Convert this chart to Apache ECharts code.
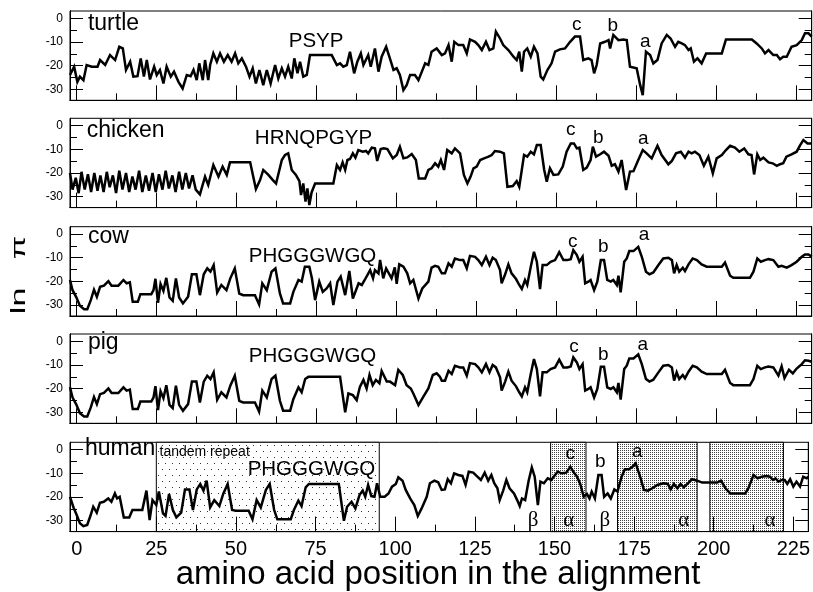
<!DOCTYPE html>
<html><head><meta charset="utf-8">
<script src="https://cdn.jsdelivr.net/npm/echarts@6/dist/echarts.min.js"></script>
<style>html,body{margin:0;padding:0;background:#fff}#c{width:813px;height:592px}</style>
</head><body><div id="c"></div><script>
// ---------------- data ----------------
const species = ['turtle', 'chicken', 'cow', 'pig', 'human'];
const xTickLabels = [0, 25, 50, 75, 100, 125, 150, 175, 200, 225];
const xMinorTicks = [12.5, 37.5, 62.5, 87.5, 112.5, 137.5, 162.5, 187.5, 212.5];
const yTickLabels = [0, -10, -20, -30];
const yMinorTicks = [-5, -15, -25];

const turtle = [[-2.1,-23.9],[-1.6,-22.5],[-0.8,-20.4],[0.2,-26.8],[1.0,-24.6],[2.1,-26.1],[3.1,-19.7],[4.7,-20.4],[6.5,-20.4],[7.3,-17.6],[8.9,-19.7],[10.4,-15.5],[12.0,-17.6],[13.3,-12.0],[14.4,-12.7],[15.4,-21.8],[16.7,-18.3],[17.7,-24.6],[19.0,-24.4],[20.0,-16.9],[21.0,-24.6],[21.9,-17.6],[22.9,-25.8],[24.2,-20.4],[25.0,-23.9],[26.0,-21.8],[27.1,-27.5],[28.1,-20.4],[29.4,-24.6],[30.4,-22.5],[31.8,-26.8],[33.1,-29.6],[34.4,-23.9],[35.6,-24.4],[36.5,-21.8],[37.5,-26.1],[38.3,-19.0],[39.4,-26.1],[40.1,-17.6],[41.1,-26.1],[41.7,-19.7],[42.7,-14.8],[43.8,-18.3],[44.8,-14.8],[46.0,-18.3],[47.2,-15.5],[48.4,-18.3],[49.5,-14.8],[50.5,-19.0],[51.6,-16.9],[52.9,-20.4],[54.0,-24.6],[55.0,-21.1],[56.0,-27.5],[57.1,-21.8],[58.3,-28.2],[59.4,-21.8],[60.6,-27.5],[62.0,-19.7],[63.0,-25.4],[64.1,-21.1],[65.1,-24.6],[66.1,-20.4],[67.2,-25.4],[68.0,-16.9],[69.0,-23.2],[69.8,-18.3],[70.8,-24.6],[71.9,-23.9],[72.9,-15.5],[79.7,-15.5],[81.3,-19.7],[82.3,-19.0],[83.3,-20.4],[84.4,-19.7],[85.4,-14.1],[86.7,-23.2],[87.7,-18.3],[88.8,-14.8],[89.6,-19.7],[91.1,-15.5],[91.9,-20.4],[93.2,-12.7],[94.3,-22.5],[95.3,-16.2],[96.7,-12.0],[97.7,-16.2],[99.0,-21.8],[100.0,-21.1],[101.0,-23.9],[102.1,-30.3],[103.1,-28.2],[104.2,-23.9],[105.7,-23.9],[106.8,-26.1],[108.9,-19.0],[109.9,-19.7],[110.9,-14.1],[112.5,-12.7],[114.1,-15.5],[115.1,-14.8],[116.2,-11.3],[117.2,-18.3],[118.0,-9.9],[119.3,-11.3],[120.8,-11.3],[121.9,-14.8],[122.9,-8.9],[124.5,-9.9],[125.5,-11.3],[126.6,-13.4],[127.9,-9.9],[129.0,-13.4],[130.2,-12.7],[131.0,-5.6],[132.3,-8.5],[133.3,-11.3],[134.9,-13.4],[136.5,-16.2],[137.5,-17.6],[138.3,-14.1],[139.1,-22.5],[139.8,-14.1],[140.8,-12.7],[141.9,-16.2],[142.9,-12.0],[144.0,-14.8],[145.0,-24.6],[145.8,-25.8],[147.1,-21.8],[148.4,-19.0],[149.5,-14.1],[151.0,-13.1],[152.6,-12.7],[154.2,-9.9],[155.7,-7.7],[157.3,-7.7],[158.3,-17.6],[159.9,-16.9],[160.9,-17.6],[161.7,-23.2],[162.5,-19.7],[163.6,-10.6],[165.1,-9.9],[166.2,-9.2],[166.7,-12.7],[167.7,-7.0],[169.3,-9.2],[170.8,-8.9],[171.9,-9.2],[172.9,-20.4],[175.0,-21.1],[176.1,-28.2],[176.9,-32.4],[177.9,-14.1],[179.2,-15.5],[180.2,-19.0],[181.5,-17.6],[182.8,-10.6],[184.4,-7.0],[185.6,-8.5],[187.0,-12.0],[188.0,-9.9],[189.1,-10.6],[190.1,-11.3],[191.2,-13.4],[191.9,-12.7],[192.9,-18.3],[194.0,-16.9],[195.3,-19.0],[196.7,-14.8],[201.6,-14.8],[202.9,-8.9],[211.0,-8.9],[212.5,-10.6],[214.1,-12.7],[215.1,-14.8],[216.2,-13.4],[217.7,-15.5],[218.8,-15.5],[219.8,-17.3],[220.8,-16.2],[221.9,-16.2],[223.4,-12.0],[225.0,-11.3],[226.6,-9.2],[227.6,-6.3],[228.7,-6.3],[229.7,-7.7]];

const chicken = [[-2.1,-20],[-1.3,-27],[-0.3,-22],[0.6,-28.5],[1.5,-19.5],[2.5,-27],[3.5,-20.5],[4.5,-28],[5.5,-20],[6.5,-27.5],[7.4,-21],[8.4,-28],[9.4,-19.5],[10.3,-26],[11.3,-21],[12.3,-28.5],[13.3,-19],[14.3,-27],[15.4,-20],[16.4,-28],[17.4,-21.5],[18.4,-27],[19.5,-19],[20.5,-28],[21.6,-21],[22.6,-27.5],[23.7,-20],[24.7,-28],[25.7,-20.5],[26.8,-27],[27.8,-19],[28.8,-26.5],[29.9,-21],[30.9,-28],[32.0,-19.5],[33.0,-27],[34.1,-20],[35.1,-26.5],[36.2,-21],[37.2,-27],[38.5,-29],[40.1,-21.5],[41.1,-25],[42.7,-16.6],[44.3,-21.5],[45.6,-17.3],[46.9,-20.8],[47.9,-15.5],[54.2,-15.5],[56.0,-26.8],[57.3,-23],[58.3,-18.7],[59.9,-20.8],[61.3,-23],[62.3,-24.4],[64.1,-14.5],[65.1,-12.4],[66.1,-11.7],[67.2,-18.7],[68.5,-20.8],[69.6,-23.4],[70.1,-29.3],[70.8,-24.4],[71.5,-32.1],[72.1,-26.5],[72.7,-33.5],[73.4,-28.2],[74.5,-24.4],[80.2,-24.4],[81.3,-16.6],[82.3,-18.7],[83.1,-15.5],[83.9,-18.7],[84.6,-14.5],[85.4,-14.1],[86.3,-11.7],[87.1,-13.5],[88.0,-10.3],[89.4,-11],[90.4,-10.7],[91.1,-11.7],[92.2,-9.3],[93.2,-9.6],[93.9,-14.9],[95.0,-9.9],[96.0,-9.6],[97.1,-9.9],[98.8,-13.8],[100.0,-12.4],[101.0,-8.9],[102.1,-13.8],[103.3,-13.4],[104.7,-12],[106.0,-14.5],[106.9,-22.3],[108.9,-22.3],[109.9,-18.7],[110.9,-18],[112.0,-15.9],[113.0,-17.3],[113.8,-14.5],[114.8,-18.7],[115.8,-10.3],[117.2,-11.7],[118.2,-9.6],[119.8,-11.7],[121.0,-20.8],[122.1,-24.4],[123.1,-21.5],[124.0,-18],[125.0,-17.3],[126.1,-14.5],[127.3,-13.8],[128.7,-13.1],[129.7,-12.4],[130.7,-10.7],[132.3,-11],[133.5,-11.7],[134.6,-25.8],[136.3,-25.5],[137.5,-23.4],[138.3,-25.8],[139.8,-12.4],[140.8,-13.1],[141.9,-11],[142.9,-12.1],[143.8,-8.2],[145.0,-8.2],[146.1,-18.7],[146.9,-23.7],[147.9,-18],[149.0,-20.8],[150.5,-20.6],[151.9,-17.3],[153.1,-11],[154.4,-7.5],[155.4,-7.5],[156.3,-9.6],[157.1,-9.3],[158.3,-18.7],[159.4,-17.7],[160.6,-14.5],[161.3,-8.9],[162.3,-13.1],[163.6,-12.1],[164.8,-11],[166.2,-12.7],[167.2,-16.9],[168.2,-16.3],[169.3,-19.4],[170.3,-14.5],[171.7,-27.2],[172.9,-19.4],[174.0,-19.2],[175.5,-14.5],[176.9,-10.3],[178.1,-11.7],[179.7,-13.8],[181.5,-8.5],[182.8,-12.4],[184.9,-16.3],[186.0,-14.9],[187.3,-11.7],[188.8,-11],[190.1,-13.5],[191.2,-11],[192.2,-11.7],[193.2,-11],[194.6,-12.4],[196.0,-16.9],[197.4,-13.1],[198.8,-20.1],[200.0,-13.8],[201.6,-12.4],[202.9,-10.3],[204.2,-8.5],[205.7,-9.3],[207.1,-11],[208.6,-9.6],[209.9,-12.1],[210.9,-12.4],[211.7,-20.6],[212.7,-12.1],[213.6,-14.5],[214.6,-13.5],[216.2,-15.5],[217.5,-15.9],[218.8,-17],[219.8,-16.3],[220.8,-15.9],[221.8,-13.1],[223.4,-12.1],[225.0,-11],[226.1,-8.2],[227.1,-6.1],[228.4,-7.5],[229.7,-7.5]];

const cow = [[-2.1,-19.4],[-1.3,-23.7],[-0.2,-26.5],[1.0,-30.3],[2.3,-31.7],[3.3,-31.7],[4.4,-27.9],[5.4,-23.5],[6.3,-26.5],[7.3,-22.3],[8.5,-21.8],[9.9,-19.9],[10.9,-21.8],[13.0,-21.8],[14.6,-19.4],[15.6,-20.8],[16.6,-20.4],[17.5,-28.6],[19.1,-28.6],[19.9,-25.4],[23.3,-25.4],[24.0,-23.7],[24.6,-18.9],[25.4,-29.0],[26.2,-21.1],[27.1,-24.0],[28.0,-18.5],[29.0,-26.8],[30.0,-28.2],[31.0,-18.7],[32.0,-26.8],[33.2,-29.3],[34.8,-26.5],[36.0,-17.0],[37.4,-17.0],[38.5,-25.8],[39.7,-17.0],[40.8,-14.5],[41.8,-15.9],[42.8,-13.1],[43.9,-24.7],[45.2,-21.5],[46.8,-23.7],[48.0,-18.7],[49.4,-14.5],[50.8,-25.1],[52.0,-25.8],[55.7,-25.8],[57.0,-29.7],[58.0,-20.8],[59.4,-23.7],[60.9,-15.9],[62.1,-14.5],[63.5,-25.1],[64.5,-29.3],[66.7,-29.3],[67.7,-24.4],[69.3,-19.4],[70.3,-20.1],[71.3,-13.8],[72.7,-13.8],[73.5,-18.7],[74.5,-27.9],[75.8,-20.1],[76.9,-24.4],[78.1,-23.0],[79.2,-20.8],[80.2,-30.0],[81.5,-20.1],[82.5,-18.0],[83.9,-25.8],[85.2,-15.6],[86.3,-27.2],[88.1,-20.8],[89.1,-21.5],[90.0,-19.4],[91.7,-15.2],[92.6,-18.7],[93.2,-15.2],[94.3,-16.6],[94.8,-10.9],[95.8,-18.7],[96.7,-14.5],[98.4,-18.7],[99.4,-14.1],[100.0,-21.0],[100.8,-12.8],[102.1,-13.8],[103.3,-16.6],[104.2,-20.8],[105.2,-19.4],[106.8,-27.2],[108.0,-23.0],[109.9,-20.1],[110.9,-14.2],[112.0,-13.4],[113.0,-13.8],[114.1,-16.6],[115.1,-16.6],[116.2,-12.4],[117.2,-13.8],[118.2,-10.3],[119.8,-11.0],[120.8,-11.0],[121.9,-14.5],[122.9,-9.2],[124.5,-9.6],[125.5,-11.0],[126.6,-13.1],[127.9,-9.6],[129.0,-13.1],[130.0,-10.0],[131.0,-11.0],[132.3,-15.2],[132.8,-20.8],[133.9,-17.0],[134.9,-12.8],[135.9,-16.6],[137.3,-19.0],[138.3,-21.5],[139.1,-23.2],[140.1,-19.4],[140.8,-21.5],[141.9,-13.8],[142.9,-7.5],[143.8,-11.7],[144.8,-23.2],[145.6,-13.1],[146.9,-13.1],[148.1,-11.7],[149.5,-11.0],[150.8,-7.7],[152.1,-11.0],[153.3,-11.0],[154.4,-10.6],[155.2,-6.8],[156.3,-8.9],[157.1,-11.7],[158.1,-9.6],[158.9,-20.8],[159.9,-20.1],[160.6,-19.4],[161.7,-23.7],[162.7,-20.1],[163.8,-11.0],[164.8,-11.0],[165.8,-19.4],[166.9,-20.1],[167.7,-19.4],[168.8,-21.5],[169.3,-17.6],[170.0,-24.6],[171.1,-11.7],[171.9,-10.3],[172.7,-7.2],[174.0,-7.2],[175.5,-5.4],[176.6,-9.6],[177.9,-15.9],[179.0,-17.0],[180.2,-16.2],[181.8,-13.1],[183.3,-10.3],[184.9,-10.0],[186.0,-11.0],[186.7,-16.6],[187.5,-13.1],[188.3,-15.9],[189.4,-14.2],[190.1,-15.6],[191.2,-12.8],[192.5,-10.3],[193.8,-11.0],[195.3,-12.8],[196.9,-13.8],[201.6,-13.8],[202.6,-12.0],[204.2,-17.6],[205.2,-18.5],[210.4,-18.5],[211.5,-15.9],[212.7,-10.3],[213.8,-11.7],[215.1,-11.0],[216.2,-10.6],[217.7,-11.0],[219.3,-13.8],[220.3,-13.4],[221.9,-14.2],[223.4,-13.1],[225.0,-11.7],[226.6,-9.6],[227.6,-8.6],[228.7,-8.6],[229.7,-9.6]];

const pig = [[-2.1,-19.4],[-1.3,-23.7],[-0.2,-26.5],[1.0,-30.3],[2.3,-31.7],[3.3,-31.7],[4.4,-27.9],[5.4,-23.5],[6.3,-26.5],[7.3,-22.3],[8.5,-21.8],[9.9,-19.9],[10.9,-21.8],[13.0,-21.8],[14.6,-19.4],[15.6,-20.8],[16.6,-20.4],[17.5,-28.6],[19.1,-28.6],[19.9,-25.4],[23.3,-25.4],[24.0,-23.7],[24.6,-18.9],[25.4,-29.0],[26.2,-21.1],[27.1,-24.0],[28.0,-18.5],[29.0,-26.8],[30.0,-28.2],[31.0,-18.7],[32.0,-26.8],[33.2,-29.3],[34.8,-26.5],[36.0,-17.0],[37.4,-17.0],[38.5,-25.8],[39.7,-17.0],[40.8,-14.5],[41.8,-15.9],[42.8,-13.1],[43.9,-24.7],[45.2,-21.5],[46.8,-23.7],[48.0,-18.7],[49.4,-14.5],[50.8,-25.1],[52.0,-25.8],[55.7,-25.8],[57.0,-29.7],[58.0,-20.8],[59.4,-23.7],[60.9,-15.9],[62.1,-14.5],[63.5,-25.1],[64.5,-29.3],[66.7,-29.3],[67.7,-24.4],[69.3,-19.4],[70.3,-21.5],[71.4,-15.9],[72.4,-15.0],[82.3,-15.0],[83.9,-30.0],[84.9,-22.0],[86.3,-22.7],[87.5,-24.8],[88.5,-19.2],[89.6,-16.3],[90.6,-19.9],[91.5,-14.2],[92.5,-18.5],[93.5,-16.3],[94.6,-17.7],[95.3,-12.5],[96.9,-17.0],[97.9,-17.0],[99.5,-18.5],[100.5,-12.1],[101.9,-14.2],[103.1,-18.5],[104.4,-19.9],[105.2,-22.0],[106.8,-26.9],[108.3,-23.4],[109.9,-19.9],[111.3,-14.2],[112.5,-13.5],[113.5,-14.9],[114.1,-16.6],[115.1,-16.6],[116.2,-12.4],[117.2,-13.8],[118.2,-10.3],[119.8,-11.0],[120.8,-11.0],[121.9,-14.5],[122.9,-9.2],[124.5,-9.6],[125.5,-11.0],[126.6,-13.1],[127.9,-9.6],[129.0,-13.1],[130.0,-10.0],[131.0,-11.0],[132.3,-15.2],[132.8,-20.8],[133.9,-17.0],[134.9,-12.8],[135.9,-16.6],[137.3,-19.0],[138.3,-21.5],[139.1,-23.2],[140.1,-19.4],[140.8,-21.5],[141.9,-13.8],[142.9,-7.5],[143.8,-11.7],[144.8,-23.2],[145.6,-13.1],[146.9,-13.1],[148.1,-11.7],[149.5,-11.0],[150.8,-7.7],[152.1,-11.0],[153.3,-11.0],[154.4,-10.6],[155.2,-6.8],[156.3,-8.9],[157.1,-11.7],[158.1,-9.6],[158.9,-20.8],[159.9,-20.1],[160.6,-19.4],[161.7,-23.7],[162.7,-20.1],[163.8,-10.7],[164.8,-10.7],[165.8,-19.4],[166.9,-20.1],[167.7,-19.4],[168.8,-21.5],[169.3,-17.6],[170.0,-24.6],[171.1,-11.7],[171.9,-10.3],[172.7,-7.2],[174.0,-7.2],[175.5,-5.5],[176.6,-9.6],[177.9,-15.9],[179.0,-17.0],[180.2,-16.2],[181.8,-13.1],[183.3,-10.3],[184.9,-10.0],[186.0,-11.0],[186.7,-16.6],[187.5,-13.1],[188.3,-15.9],[189.4,-14.2],[190.1,-15.6],[191.2,-12.8],[192.5,-10.3],[193.8,-11.0],[195.3,-12.8],[196.9,-13.8],[201.6,-13.8],[202.6,-12.0],[204.2,-17.6],[205.2,-18.5],[210.4,-18.5],[211.5,-15.9],[212.7,-10.3],[213.8,-11.7],[215.1,-11.0],[216.2,-10.6],[217.7,-11.0],[219.3,-14.5],[220.3,-10.5],[221.2,-15.5],[222.6,-12.0],[223.8,-13.5],[225.0,-11.5],[226.6,-9.6],[227.6,-8.0],[228.7,-8.2],[229.7,-8.6]];

const human = [[-2.1,-19.9],[-1.0,-24.4],[0.0,-27.6],[1.0,-31.1],[2.1,-32.3],[3.3,-31.8],[4.4,-27.6],[5.2,-24.1],[6.3,-26.6],[7.3,-22.4],[8.5,-22.0],[9.9,-20.6],[10.9,-22.0],[12.0,-18.5],[12.7,-20.6],[13.5,-19.9],[14.8,-28.6],[16.5,-28.6],[17.5,-25.5],[20.6,-25.5],[21.9,-17.3],[22.9,-29.7],[23.8,-21.3],[25.0,-23.4],[25.8,-17.7],[27.1,-26.9],[27.9,-28.0],[29.0,-18.7],[30.2,-25.5],[31.3,-28.6],[32.8,-26.6],[34.0,-16.8],[35.4,-16.8],[36.5,-25.5],[37.7,-16.8],[38.8,-14.5],[39.8,-17.3],[40.8,-13.1],[41.9,-24.4],[43.2,-21.3],[44.8,-23.8],[46.0,-18.7],[47.4,-14.5],[48.8,-25.5],[50.0,-25.8],[54.0,-25.8],[55.2,-29.4],[56.5,-21.3],[57.8,-24.4],[59.4,-17.0],[60.6,-14.5],[62.0,-25.5],[63.0,-29.4],[67.2,-29.4],[68.2,-25.5],[69.6,-21.5],[70.6,-23.8],[71.9,-15.9],[72.9,-14.5],[82.3,-14.5],[83.9,-30.0],[84.9,-24.1],[86.3,-22.0],[87.5,-24.8],[88.8,-19.2],[89.8,-17.3],[90.6,-19.9],[91.5,-14.9],[92.5,-19.6],[93.5,-19.9],[94.3,-14.2],[95.3,-19.9],[96.7,-19.9],[97.9,-18.5],[99.0,-15.6],[100.2,-14.5],[101.0,-11.7],[102.3,-13.1],[103.3,-17.0],[104.7,-20.6],[106.0,-23.4],[107.1,-28.0],[108.3,-24.8],[109.9,-19.9],[110.9,-14.2],[112.3,-13.1],[113.5,-13.8],[114.6,-17.0],[115.6,-16.8],[116.5,-12.5],[117.5,-14.2],[118.5,-10.0],[119.8,-10.7],[121.1,-11.1],[122.1,-14.9],[123.1,-9.3],[124.5,-9.7],[125.8,-11.4],[126.9,-12.8],[128.1,-9.7],[129.2,-13.1],[130.2,-10.7],[131.1,-14.2],[132.1,-16.3],[132.8,-21.3],[133.9,-17.3],[134.9,-12.8],[135.9,-16.3],[137.3,-18.5],[138.3,-21.3],[139.1,-23.8],[139.8,-20.6],[140.8,-21.3],[141.9,-13.1],[142.9,-7.5],[143.8,-11.4],[144.8,-23.4],[145.6,-13.5],[146.7,-14.2],[147.9,-12.1],[149.0,-12.8],[150.2,-10.7],[151.0,-9.3],[152.3,-10.0],[153.7,-9.7],[155.0,-7.2],[156.1,-9.7],[157.1,-11.4],[158.1,-14.5],[159.2,-19.9],[160.2,-18.7],[161.0,-20.6],[161.7,-17.7],[162.7,-20.6],[163.8,-10.7],[164.8,-10.7],[165.6,-19.9],[166.7,-18.5],[167.7,-20.6],[168.8,-16.8],[169.8,-17.7],[171.1,-11.4],[172.1,-8.3],[173.4,-8.3],[174.5,-7.2],[175.5,-5.8],[176.9,-11.4],[178.1,-17.0],[179.4,-17.3],[180.7,-16.3],[182.3,-14.9],[184.2,-14.2],[185.6,-14.5],[186.5,-16.8],[187.5,-14.5],[188.6,-16.3],[189.6,-14.5],[190.6,-15.9],[191.9,-14.2],[193.2,-12.5],[194.8,-13.1],[196.4,-13.9],[201.1,-13.9],[202.3,-13.1],[203.7,-16.3],[205.2,-18.5],[209.9,-18.5],[210.9,-16.3],[212.5,-10.7],[213.8,-12.1],[215.1,-11.4],[216.5,-11.1],[217.7,-11.4],[218.6,-12.8],[219.4,-12.1],[220.3,-13.5],[221.4,-12.8],[222.3,-12.8],[223.1,-14.5],[224.0,-12.5],[225.0,-15.6],[226.0,-13.5],[227.1,-15.6],[228.1,-11.4],[229.2,-12.1],[229.7,-11.4]];

const seriesData = [turtle, chicken, cow, pig, human];

// human panel regions: [start, end]
const tandemRegion = [[25, 95]];
const structRegions = [[148.8, 159.9], [169.8, 194.8], [198.8, 221.9]];

// in-panel annotations: [text, x, y]
const nameLabels = [['turtle', 3.5, -2.3], ['chicken', 3.1, -2.0], ['cow', 3.5, -1.0], ['pig', 3.5, -0.7], ['human', 2.6, 0.4]];
const motifLabels = [['PSYP', 74.8, -9.7], ['HRNQPGYP', 74.0, -5.2], ['PHGGGWGQ', 73.7, -9.4], ['PHGGGWGQ', 73.7, -6.3], ['PHGGGWGQ', 73.7, -8.4]];
const siteLabels = [
  [['c', 156.3, -2.9], ['b', 167.5, -3.3], ['a', 177.7, -9.9]],
  [['c', 154.4, -1.9], ['b', 163.0, -5.1], ['a', 177.1, -5.4]],
  [['c', 155.0, -3.3], ['b', 164.6, -5.4], ['a', 177.3, -0.4]],
  [['c', 155.4, -2.3], ['b', 164.6, -5.8], ['a', 176.9, -1.6]],
  [['c', 155.0, -1.9], ['b', 164.4, -5.1], ['a', 176.0, -0.9]]
];
const extraHuman = [['tandem repeat', 26.0, -1.2]];
const greekLabels = [['β', 143.3, -29.7], ['α', 154.5, -29.7], ['β', 165.8, -29.7], ['α', 190.6, -29.7], ['α', 217.7, -29.7]];

// ---------------- layout / style ----------------
const sans = "'Liberation Sans', Arial, Helvetica, sans-serif";
const serif = "'Liberation Serif', 'Times New Roman', serif";
const panelTops = [11, 118.3, 226.7, 334, 442.3];
const panelH = 89.3;
const X_MIN = -2.1, X_MAX = 229.7, Y_MIN = -34.6, Y_MAX = 3.1;

function makePattern(w, h, dots, color) {
  const c = document.createElement('canvas');
  c.width = w; c.height = h;
  const ctx = c.getContext('2d');
  ctx.fillStyle = '#fff'; ctx.fillRect(0, 0, w, h);
  ctx.fillStyle = color;
  dots.forEach(d => ctx.fillRect(d[0], d[1], 1, 1));
  return c;
}
const sparsePat = makePattern(7, 12, [[1, 1], [4, 7]], '#333');
const densePat = makePattern(2, 2, [[0, 0]], '#444');

function txt(item, size, align, family) {
  return {
    coord: [item[1], item[2]], symbol: 'circle', symbolSize: 0,
    itemStyle: { color: 'transparent' },
    label: { show: true, position: 'inside', formatter: item[0], align: align, verticalAlign: 'middle',
      fontSize: size, fontFamily: family, color: '#000' }
  };
}

const grid = [], xAxis = [], yAxis = [], series = [];
species.forEach((name, i) => {
  grid.push({ left: 70, width: 741.7, top: panelTops[i], height: panelH, show: true,
    borderColor: '#000', borderWidth: 1, backgroundColor: 'transparent' });
  const bottom = i === 4;
  [[xTickLabels, 15, true], [xMinorTicks, 7, false]].forEach(([vals, len, lab]) => {
    xAxis.push({ type: 'value', gridIndex: i, min: X_MIN, max: X_MAX, position: 'bottom', z: 3,
      axisLine: { show: true, onZero: false, lineStyle: { color: '#000', width: 1 } },
      axisTick: { show: true, inside: true, length: len, customValues: vals, lineStyle: { color: '#000', width: 1 } },
      axisLabel: { show: lab && bottom, customValues: xTickLabels, fontSize: 20, fontFamily: sans, color: '#000', margin: 8 },
      splitLine: { show: false } });
  });
  [['left', yTickLabels, 13, true], ['left', yMinorTicks, 7, false], ['right', yTickLabels, 13, false], ['right', yMinorTicks, 7, false]]
    .forEach(([pos, vals, len, lab]) => {
      yAxis.push({ type: 'value', gridIndex: i, min: Y_MIN, max: Y_MAX, position: pos, z: 3,
        axisLine: { show: true, onZero: false, lineStyle: { color: '#000', width: 1 } },
        axisTick: { show: true, inside: true, length: len, customValues: vals, lineStyle: { color: '#000', width: 1 } },
        axisLabel: { show: lab, customValues: yTickLabels, fontSize: 12, fontFamily: sans, color: '#000', margin: 7 },
        splitLine: { show: false } });
    });

  const marks = [txt(nameLabels[i], 23, 'left', sans), txt(motifLabels[i], 20.5, 'center', sans)]
    .concat(siteLabels[i].map(s => txt(s, 19, 'center', sans)));
  if (bottom) {
    extraHuman.forEach(s => marks.push(txt(s, 14, 'left', sans)));
    greekLabels.forEach(s => marks.push(txt(s, 21, 'center', serif)));
  }
  series.push({ type: 'line', name: name, xAxisIndex: 2 * i, yAxisIndex: 4 * i, data: seriesData[i],
    showSymbol: false, symbol: 'none', z: 5, animation: false,
    lineStyle: { color: '#000', width: 2.5, join: 'miter', miterLimit: 4 },
    markPoint: { silent: true, animation: false, data: marks } });
});

// shaded regions (human panel)
const areaData = [];
tandemRegion.forEach(r => areaData.push([{ xAxis: r[0], itemStyle: { color: { image: sparsePat, repeat: 'repeat' } } }, { xAxis: r[1] }]));
structRegions.forEach(r => areaData.push([{ xAxis: r[0], itemStyle: { color: { image: densePat, repeat: 'repeat' } } }, { xAxis: r[1] }]));
series.push({ type: 'line', xAxisIndex: 8, yAxisIndex: 16, data: [], z: 1, animation: false,
  markArea: { silent: true, animation: false,
    itemStyle: { opacity: 1, borderColor: '#000', borderWidth: 1 }, data: areaData } });

const chart = echarts.init(document.getElementById('c'), null, { renderer: 'canvas' });
chart.setOption({
  backgroundColor: '#fff', animation: false,
  grid, xAxis, yAxis, series,
  graphic: [
    { type: 'text', x: 19, y: 275, rotation: Math.PI / 2, scaleX: 1.7,
      style: { text: 'ln   π', font: '20px ' + sans, fill: '#000', align: 'center', verticalAlign: 'middle', textAlign: 'center', textVerticalAlign: 'middle' } },
    { type: 'text', x: 438, y: 574.6,
      style: { text: 'amino acid position in the alignment', font: '33px ' + sans, fill: '#000', align: 'center', verticalAlign: 'middle', textAlign: 'center', textVerticalAlign: 'middle' } }
  ]
});
</script></body></html>
